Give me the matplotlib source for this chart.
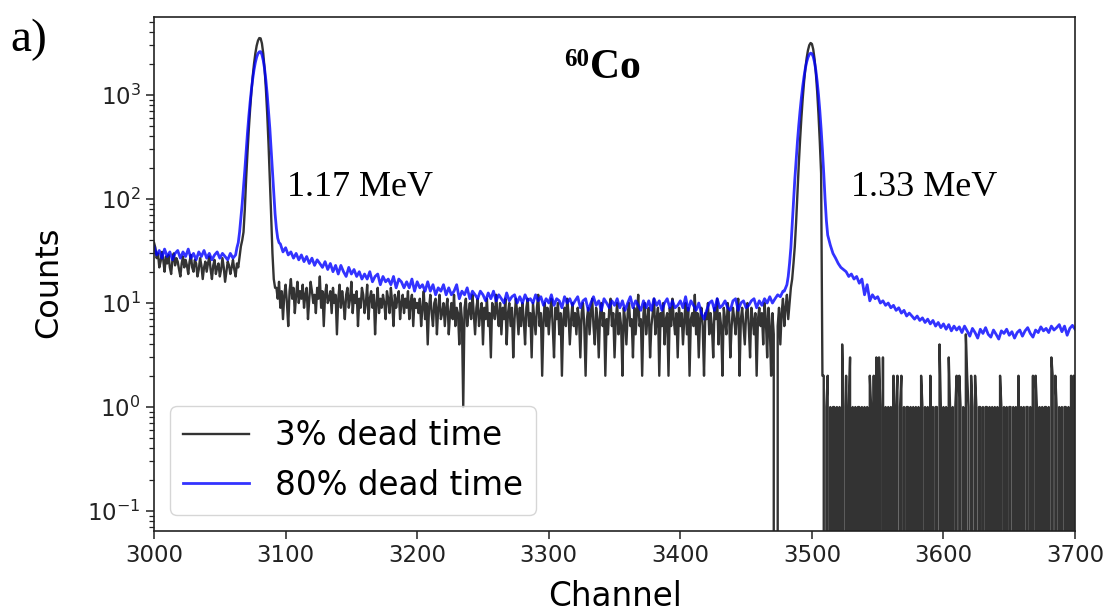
import numpy as np
import matplotlib
matplotlib.use("Agg")
import matplotlib.pyplot as plt

# ---------------- 3% dead time spectrum (counts per channel) ----------------
black_bg1 = [38, 34, 27, 30, 22, 25, 31, 26, 20, 28, 24, 29, 22,
             19, 26, 30, 23, 27, 25, 21, 18, 24, 28, 22, 26, 23,
             19, 25, 29, 22, 20, 26, 24, 18, 21, 27, 23, 17, 22,
             25, 20, 24, 28, 21, 17, 23, 26, 19, 22, 24, 18, 21,
             27, 22, 16, 20, 25, 23, 19, 22, 26, 21, 18, 24, 22]          # 3000-3064
black_peak1 = [28, 35, 40, 48, 80, 156, 275, 459, 722, 1072, 1510, 2000,
               2510, 2975, 3330, 3525, 3500, 3130, 2510, 1800, 1150, 662,
               340, 156, 70, 30, 17, 14]                                   # 3065-3092
black_cont_a = [14, 11, 16, 9, 13, 7, 12, 15, 10, 6, 13, 17, 11, 14, 8, 12, 16, 10, 13, 11,
                15, 9, 12, 14, 7, 11, 16, 13, 10, 12, 8, 14, 11, 18, 9, 13, 6, 12, 15, 10,
                11, 13, 8, 14, 10, 12, 5, 11, 15, 9, 13, 10, 7, 12, 14, 9, 11, 16, 8, 12,
                10, 13, 6, 11, 9, 14, 12, 8, 10, 15, 7, 11, 13, 9, 12, 5, 10, 14, 8, 11,
                9, 12, 10, 7, 13, 11, 8, 14, 10, 6, 12, 9, 11, 13, 7, 10, 12, 8, 11, 9,
                13, 7, 10, 12, 6, 11, 9, 10]                                 # 3093-3200
black_cont_b = [8, 11, 6, 9, 13, 7, 10, 4, 9, 12, 8, 6, 10, 11, 5, 9, 12, 7, 8, 10,
                6, 9, 11, 5, 8, 10, 7, 12, 6, 9, 8, 4, 10, 7, 1, 9, 11, 6, 8, 10,
                7, 12, 8, 5, 9, 11, 6, 8, 10, 4, 9, 7, 11, 6, 8, 3, 10, 9, 7, 12,
                8, 6, 10, 5, 9, 7, 11, 4, 8, 10, 6, 9, 3, 7, 11, 8, 5, 9, 6, 10,
                7, 4, 9, 11, 6, 8, 3, 10, 7, 5, 9, 12, 6, 8, 2, 7, 10, 6, 9, 5,
                8, 11, 6, 3, 9, 7, 10, 5, 8, 2, 7, 9, 6, 11, 8, 4, 7, 10, 6, 8,
                5, 9, 7, 3, 8, 10, 6, 2, 7, 9, 5, 8, 11, 6, 4, 9, 7, 3, 8, 10,
                6, 8, 2, 7, 5, 9, 11, 6, 8, 3, 7, 10, 5, 8, 6, 2, 9, 7, 4, 8,
                10, 6, 7, 3, 9, 5, 8, 12, 6, 7, 2, 8, 10, 5, 7, 9, 3, 6, 8, 11,
                5, 7, 9, 2, 8, 6, 10, 4, 7, 8, 2, 9, 6, 11, 7, 5, 8, 3, 9, 6,
                8, 4, 7, 10, 5, 9, 2, 7, 8, 6, 12, 5, 8, 3, 7, 9, 6, 2, 8, 7,
                10, 5, 8, 6, 3, 9, 7, 11, 4, 8, 6, 2, 9, 7, 5, 10, 8, 3, 6, 9,
                7, 5, 8, 11, 2, 7, 9, 6, 4, 8, 10, 6, 3, 9, 7, 5, 8, 2, 7, 9,
                6, 8, 4, 10, 7, 3, 9, 6, 2, 8]                               # 3201-3470
black_peak2 = [5, 0, 0, 6, 9, 4, 8, 11, 6, 9, 12, 7, 10, 14, 17, 24, 35, 60, 115, 212,
               368, 600, 917, 1320, 1780, 2260, 2690, 3010, 3160, 3095,
               2750, 2220, 1625, 1080, 650, 355, 176]                       # 3471-3507
black_tail = [2, 2, 0, 1, 2, 0, 1, 0, 1, 1, 0, 1, 0, 1, 0, 4, 1, 0, 2, 0,
              1, 3, 0, 1, 0, 1, 0, 1, 1, 0, 1, 0, 1, 0, 1, 0, 2, 1, 0, 2,
              0, 3, 0, 3, 1, 0, 3, 0, 1, 0, 1, 0, 1, 0, 2, 0, 1, 2, 0, 1,
              2, 0, 1, 0, 1, 1, 0, 1, 0, 1, 0, 1, 0, 1, 0, 2, 1, 0, 1, 0,
              1, 0, 2, 0, 1, 0, 1, 1, 0, 4, 1, 0, 1, 0, 1, 0, 3, 1, 0, 1,
              0, 1, 2, 0, 2, 1, 0, 1, 0, 5, 2, 1, 0, 2, 1, 0, 2, 1, 0, 1,
              1, 0, 1, 0, 1, 1, 0, 1, 0, 1, 0, 1, 0, 1, 0, 2, 1, 0, 1, 0,
              1, 0, 1, 1, 0, 1, 0, 1, 0, 2, 0, 1, 0, 1, 0, 1, 1, 0, 1, 0,
              2, 0, 2, 1, 0, 1, 0, 1, 0, 1, 1, 0, 1, 0, 3, 2, 0, 2, 1, 0,
              1, 0, 1, 0, 1, 1, 0, 1, 0, 2, 0, 2, 1]                        # 3508-3700

# ---------------- 80% dead time spectrum ----------------
blue_bg1 = [35, 29, 32, 27, 33, 28, 31, 26, 30, 32, 27, 31, 28, 33, 27, 30,
            26, 31, 28, 32, 27, 30, 26, 29, 31, 27, 30, 28, 26, 30, 27, 29]  # 3000-3062, every 2nd
blue_peak1 = [34, 38, 48, 65, 90, 130, 190, 290, 430, 618, 850, 1125, 1430, 1750,
              2050, 2310, 2500, 2600, 2610, 2440, 2150, 1790, 1390, 1020, 700,
              480, 300, 185, 115, 72, 52, 42, 38]                           # 3063-3095
blue_cont = [37, 31, 34, 29, 31, 27, 30, 26, 29, 25, 28, 24, 27, 23, 26, 24,
             22, 25, 21, 24, 20, 23, 19, 23, 20, 18, 22, 19, 21, 18, 20, 17,
             19, 17, 20, 16, 18, 19, 15, 18, 16, 17, 15, 18, 14, 17, 16, 14,
             16, 14, 17, 13, 16, 14, 15, 13, 16, 13, 15, 12, 14, 13, 15, 12,
             14, 12, 13, 15, 11, 13, 12, 14, 11, 13, 12, 11, 13, 12, 10.5, 12.5,
             11, 13, 10.5, 12, 11, 10, 12.5, 10.5, 11.5, 12, 10, 11.5, 10, 12, 10.5, 11,
             10, 12, 10.5, 11.5, 9.5, 11, 10, 12, 9.5, 11, 10.5, 9, 11.5, 10, 11, 9.5,
             10.5, 11.5, 9, 10.5, 11, 8.5, 10, 11.5, 9.5, 10.5, 8.5, 11, 10, 9, 10.5, 9.5,
             11, 9, 10.5, 8.5, 10, 11.5, 9, 10.5, 9.5, 8.5, 10.5, 9, 10.5, 8.5, 11, 9.5,
             10.5, 8.5, 10, 11, 9, 10.5, 9, 9.5, 10.5, 9, 11.5, 8.5, 10.5, 9.5, 8.5, 10,
             8, 7, 8.5, 10, 10.5, 8.5, 11, 9, 9.5, 10.5, 9, 8.5, 10.5, 11, 8.5, 10,
             10.5, 9, 9.5, 10.5, 11, 9, 10.5, 9.5, 11, 10, 11.5, 10, 11, 12, 11.5, 13]  # 3096-3478, every 2nd
blue_peak2 = [13, 14, 15, 18, 24, 34, 57, 96, 154, 238, 355, 510, 705, 940, 1210,
              1500, 1800, 2070, 2290, 2450, 2525, 2495, 2330, 2060, 1720, 1350,
              1010, 710, 471, 296, 176, 100, 62]                            # 3479-3511
blue_tail = [45, 36, 30, 27, 24, 22, 21, 20, 18, 19, 17, 18, 15.5, 17, 12, 15, 10.5, 12, 11, 11.5,
             10, 10.5, 9.5, 10, 9, 9.5, 8.5, 9, 8, 8.5, 7.5, 8, 7.5, 7, 7.5, 6.8, 7.2, 6.5, 7, 6.3,
             6.8, 6, 6.5, 5.8, 6.3, 5.6, 6.2, 5.4, 6, 5.5, 5.9, 5.2, 6, 5.4, 4.8, 5.7, 5.2, 4.6, 5.6, 5.1,
             5.8, 5, 4.7, 5.5, 5, 4.5, 5.4, 5.1, 5.6, 4.9, 5.3, 4.6, 5.2, 5.5, 4.8, 5.4, 5.8, 5.1, 4.7, 5.5,
             5.2, 5.9, 5.4, 5.7, 5.2, 6, 5.5, 5.8, 6.2, 5.3, 6, 4.9, 5.7, 6.1, 5.6]  # 3512-3700, every 2nd

series_labels = ["3% dead time", "80% dead time"]
peak_labels = ["1.17 MeV", "1.33 MeV"]


def channels(start, values, step=1):
    return start + step * np.arange(len(values))


black_x = np.concatenate([channels(3000, black_bg1), channels(3065, black_peak1),
                          channels(3093, black_cont_a), channels(3201, black_cont_b),
                          channels(3471, black_peak2), channels(3508, black_tail)])
black_y = np.concatenate([black_bg1, black_peak1, black_cont_a, black_cont_b,
                          black_peak2, black_tail]).astype(float)

blue_x = np.concatenate([channels(3000, blue_bg1, 2), channels(3063, blue_peak1),
                         channels(3096, blue_cont, 2), channels(3479, blue_peak2),
                         channels(3512, blue_tail, 2)])
blue_y = np.concatenate([blue_bg1, blue_peak1, blue_cont, blue_peak2, blue_tail]).astype(float)

fig = plt.figure(figsize=(11.05, 6.11), dpi=100)
ax = fig.add_axes([0.1394, 0.1309, 0.8335, 0.8413])

ax.plot(black_x, black_y, color="black", alpha=0.8, lw=1.7, label=series_labels[0])
ax.plot(blue_x, blue_y, color="blue", alpha=0.8, lw=2.0, label=series_labels[1])

ax.set_yscale("log")
ax.set_xlim(3000, 3700)
ax.set_ylim(0.0643, 5620)

ax.set_xlabel("Channel", fontsize=23.5)
ax.set_ylabel("Counts", fontsize=23)
ax.xaxis.set_label_coords(0.5, -0.095)
ax.yaxis.set_label_coords(-0.098, 0.484)

ax.tick_params(axis="both", which="major", labelsize=16.5, length=6, width=1.1,
               colors="#222222")
ax.tick_params(axis="y", which="minor", length=3.5, width=0.9, colors="#222222")
for s in ax.spines.values():
    s.set_linewidth(1.2)
    s.set_color("#222222")

serif = "Liberation Serif"
ax.text(3101, 130, peak_labels[0], fontsize=26, family=serif, ha="left", va="center")
ax.text(3529.5, 130, peak_labels[1], fontsize=26, family=serif, ha="left", va="center")
ax.text(0.4734, 0.9008, "Co", transform=ax.transAxes, fontsize=30, family=serif,
        weight="bold", ha="left", va="center")
ax.text(0.4725, 0.918, "60", transform=ax.transAxes, fontsize=18, family=serif,
        weight="bold", ha="right", va="center")
fig.text(0.009, 0.935, "a)", fontsize=34, family=serif, ha="left", va="center")

ax.legend(loc="lower left", fontsize=23.5, handlelength=2.0)

fig.savefig("out.png", dpi=100)
